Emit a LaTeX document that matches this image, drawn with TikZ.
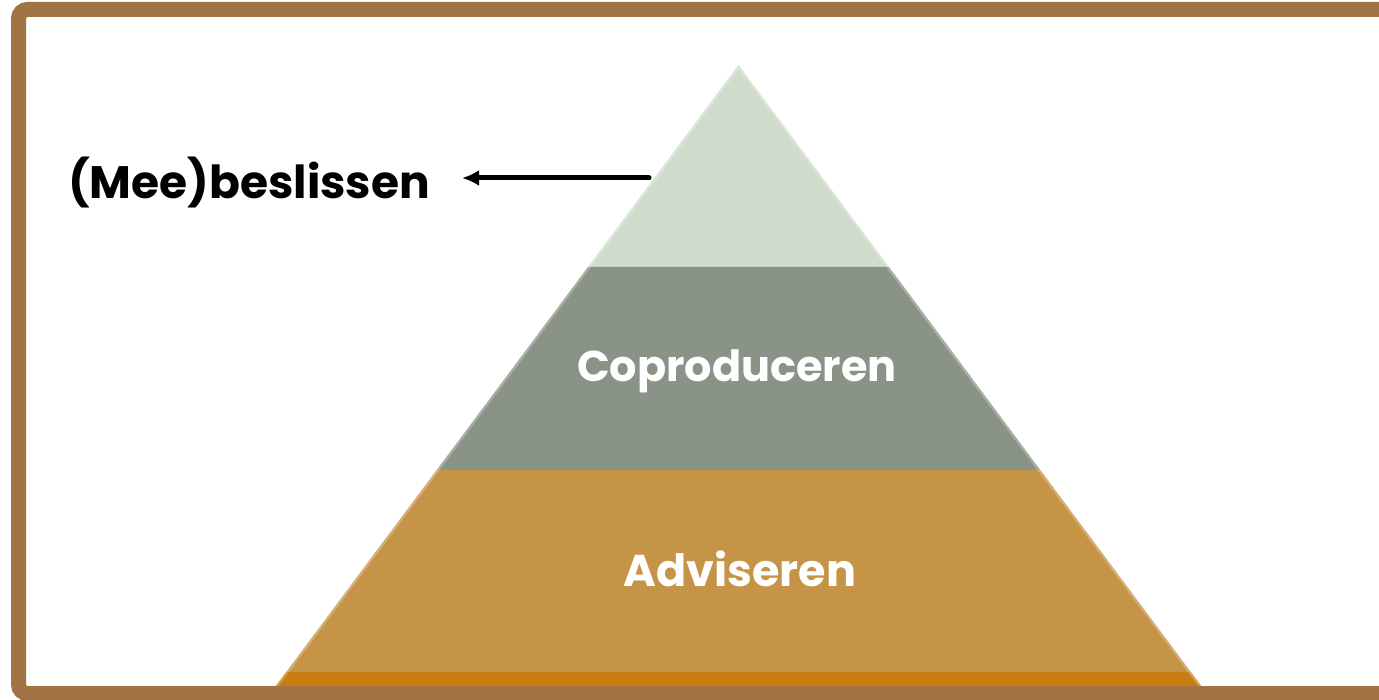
\documentclass[tikz,border=0pt]{standalone}
\usepackage{fontspec}
\setmainfont{Poppins}
\usetikzlibrary{arrows.meta}
\definecolor{framebrown}{HTML}{A27443}
\definecolor{toplayer}{HTML}{D0DCCB}
\definecolor{midlayer}{HTML}{8A9486}
\definecolor{lowlayer}{HTML}{C69447}
\definecolor{baselayer}{HTML}{C97C12}
\tikzset{
  layerlabel/.style={font=\fontsize{43}{50}\selectfont\bfseries, text=white, inner sep=0pt},
  sidelabel/.style={font=\fontsize{45.5}{54}\selectfont\bfseries, text=black, inner sep=0pt, anchor=west},
  pointer/.style={line width=5pt, -{Latex[length=17pt,width=16pt]}, line cap=round},
  edgeglow/.style={white, opacity=0.25, line width=2.5pt}
}
\begin{document}
\begin{tikzpicture}[x=1pt,y=-1pt]
\useasboundingbox (0,0) rectangle (1379,700);
\fill[white] (0,0) rectangle (1379,700);
% pyramid layers
\fill[toplayer] (738.5,65) -- (889,267) -- (588,267) -- cycle;
\fill[midlayer] (588,267) -- (889,267) -- (1040.3,470) -- (436.7,470) -- cycle;
\fill[lowlayer] (436.7,470) -- (1040.3,470) -- (1190.8,672) -- (286.2,672) -- cycle;
\fill[baselayer] (286.2,672) -- (1190.8,672) -- (1202,687) -- (275,687) -- cycle;
\draw[edgeglow] (277,686) -- (738.5,67) -- (1200,686);
% labels
\node[layerlabel] (copro) at (737,371) {Coproduceren};
\node[layerlabel, font=\fontsize{44.5}{52}\selectfont\bfseries] (advis) at (740,569) {Adviseren};
\node[sidelabel] (mee) at (68,182) {(Mee)beslissen};
\coordinate (ptrstart) at (649,178);
\coordinate (ptrend) at (462,178);
\draw[pointer] (ptrstart) -- (ptrend);
% frame
\begin{scope}
\clip (0,0) rectangle (1379,700);
\draw[framebrown, line width=15pt, rounded corners=9pt] (18.5,9.5) rectangle (1420,693.5);
\end{scope}
\end{tikzpicture}
\end{document}
